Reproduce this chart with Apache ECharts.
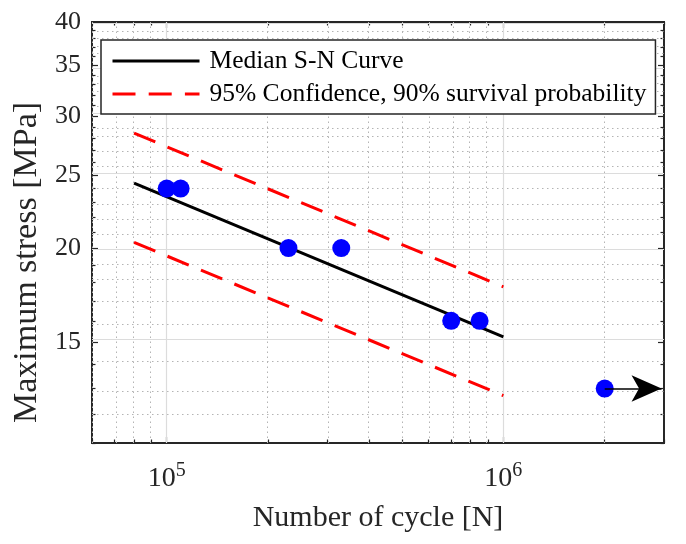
<!DOCTYPE html>
<html><head><meta charset="utf-8">
<script src="https://cdn.jsdelivr.net/npm/echarts@6/dist/echarts.min.js"></script>
<style>html,body{margin:0;padding:0;background:#fff}#c{width:686px;height:544px}</style>
</head><body><div id="c"></div>
<script>
// ---- data ----
const xMajorTicks = [1e5, 1e6];
const xMinorTicks = [6e4, 7e4, 8e4, 9e4, 2e5, 3e5, 4e5, 5e5, 6e5, 7e5, 8e5, 9e5, 2e6, 3e6];
const yMajorTicks = [15, 20, 25, 30, 35, 40];
const yMinorTicks = [11, 12, 13, 14, 16, 17, 18, 19, 21, 22, 23, 24, 26, 27, 28, 29, 31, 32, 33, 34, 36, 37, 38, 39];
const xRange = [6e4, 3e6];
const yRange = [11, 40];

const seriesNames = ['Median S-N Curve', '95% Confidence, 90% survival probability'];
const curveCycles = [8e4, 1e6];
const medianStress = [24.4, 15.23];
const upperStress = [28.45, 17.76];
const lowerStress = [20.35, 12.72];

const testCycles = [1e5, 1.1e5, 2.3e5, 3.3e5, 7e5, 8.5e5, 2e6];
const testStress = [24, 24, 20, 20, 16, 16, 13];

const runoutArrowCycles = [2e6, 2.95e6];
const runoutArrowStress = [13, 13];

// ---- helpers ----
const L = Math.log10;
const FONT = 'Liberation Serif';
const AX = '#262626';
const DASH = [23, 13.2];
const pairs = (xs, ys) => xs.map((x, i) => [L(x), L(ys[i])]);

function xAx(pos, ticks, len, main) {
  return {
    type: 'value', position: pos, min: L(xRange[0]), max: L(xRange[1]),
    axisLine: { show: main !== null, onZero: false, lineStyle: { color: AX, width: 1.8 } },
    axisTick: { show: true, inside: true, length: len, customValues: ticks.map(L), lineStyle: { color: AX, width: 1.2 } },
    splitLine: { show: false }, minorTick: { show: false },
    axisLabel: main ? {
      show: true, customValues: xMajorTicks.map(L), margin: 20,
      formatter: v => '{b|10}{s|' + Math.round(v) + '}',
      rich: { b: { fontFamily: FONT, fontSize: 28, color: AX, lineHeight: 30, verticalAlign: 'bottom' },
              s: { fontFamily: FONT, fontSize: 20, color: AX, lineHeight: 20, verticalAlign: 'bottom', padding: [0, 0, 12, 0] } }
    } : { show: false },
    name: main ? 'Number of cycle [N]' : '', nameLocation: 'middle', nameGap: 60,
    nameTextStyle: { fontFamily: FONT, fontSize: 30, color: AX }
  };
}
function yAx(pos, ticks, len, main) {
  return {
    type: 'value', position: pos, min: L(yRange[0]), max: L(yRange[1]),
    axisLine: { show: main !== null, onZero: false, lineStyle: { color: AX, width: 1.8 } },
    axisTick: { show: true, inside: true, length: len, customValues: ticks.map(L), lineStyle: { color: AX, width: 1.2 } },
    splitLine: { show: false }, minorTick: { show: false },
    axisLabel: main ? {
      show: true, customValues: yMajorTicks.map(L), margin: 11,
      formatter: v => String(Math.round(Math.pow(10, v))),
      fontFamily: FONT, fontSize: 26, color: AX
    } : { show: false },
    name: main ? 'Maximum stress [MPa]' : '', nameLocation: 'middle', nameGap: 44, nameRotate: 90,
    nameTextStyle: { fontFamily: FONT, fontSize: 34, color: AX, padding: [0, 60, 0, 0] }
  };
}

const gridLines = []
  .concat(xMinorTicks.map(v => ({ xAxis: L(v), lineStyle: { color: '#b4b4b4', width: 1, type: [1.5, 3.5] } })))
  .concat(yMinorTicks.map(v => ({ yAxis: L(v), lineStyle: { color: '#b4b4b4', width: 1, type: [1.5, 3.5] } })))
  .concat(xMajorTicks.map(v => ({ xAxis: L(v), lineStyle: { color: '#dcdcdc', width: 1.2, type: 'solid' } })))
  .concat(yMajorTicks.map(v => ({ yAxis: L(v), lineStyle: { color: '#dcdcdc', width: 1.2, type: 'solid' } })));

const chart = echarts.init(document.getElementById('c'), null, { renderer: 'canvas' });
chart.setOption({
  animation: false,
  backgroundColor: '#fff',
  grid: { left: 92, top: 22, right: 22, bottom: 101, containLabel: false },
  xAxis: [
    xAx('bottom', xMajorTicks, 6, true),
    xAx('bottom', xMinorTicks, 3.5, false),
    xAx('top', xMajorTicks, 6, false),
    xAx('top', xMinorTicks, 3.5, false)
  ],
  yAxis: [
    yAx('left', yMajorTicks, 6, true),
    yAx('left', yMinorTicks, 3.5, false),
    yAx('right', yMajorTicks, 6, false),
    yAx('right', yMinorTicks, 3.5, false)
  ],
  legend: {
    data: seriesNames, orient: 'vertical', left: 101, top: 40,
    padding: [8, 9, 7, 10], itemWidth: 87, itemHeight: 14, itemGap: 7,
    backgroundColor: '#fff', borderColor: AX, borderWidth: 1.5, borderRadius: 0,
    itemStyle: { opacity: 0, borderWidth: 0 },
    lineStyle: { width: 3 },
    textStyle: { fontFamily: FONT, fontSize: 25.5, color: '#000', padding: [0, 0, 0, 5] },
    selectedMode: false
  },
  series: [
    { type: 'line', data: [], silent: true, z: 1,
      markLine: { silent: true, symbol: ['none', 'none'], label: { show: false }, animation: false, z: 1, data: gridLines } },
    { name: seriesNames[0], type: 'line', data: pairs(curveCycles, medianStress), symbol: 'none', z: 3,
      lineStyle: { color: '#000', width: 3 }, itemStyle: { color: '#000' } },
    { name: seriesNames[1], type: 'line', data: pairs(curveCycles, upperStress), symbol: 'none', z: 3,
      lineStyle: { color: '#ff0000', width: 3, type: DASH }, itemStyle: { color: '#ff0000' } },
    { name: seriesNames[1], type: 'line', data: pairs(curveCycles, lowerStress), symbol: 'none', z: 3,
      lineStyle: { color: '#ff0000', width: 3, type: DASH }, itemStyle: { color: '#ff0000' } },
    { type: 'scatter', data: pairs(testCycles, testStress), symbol: 'circle', symbolSize: 18, z: 4,
      itemStyle: { color: '#0000ff', opacity: 1 } },
    { type: 'line', data: [], silent: true, z: 6,
      markLine: { silent: true, z: 6, symbol: ['none', 'arrow'], symbolSize: [20, 30], label: { show: false }, animation: false,
        lineStyle: { color: '#000', width: 1.5, type: 'solid' },
        data: [[{ coord: [L(runoutArrowCycles[0]), L(runoutArrowStress[0])] }, { coord: [L(runoutArrowCycles[1]), L(runoutArrowStress[1])] }]] } }
  ]
});
</script></body></html>
